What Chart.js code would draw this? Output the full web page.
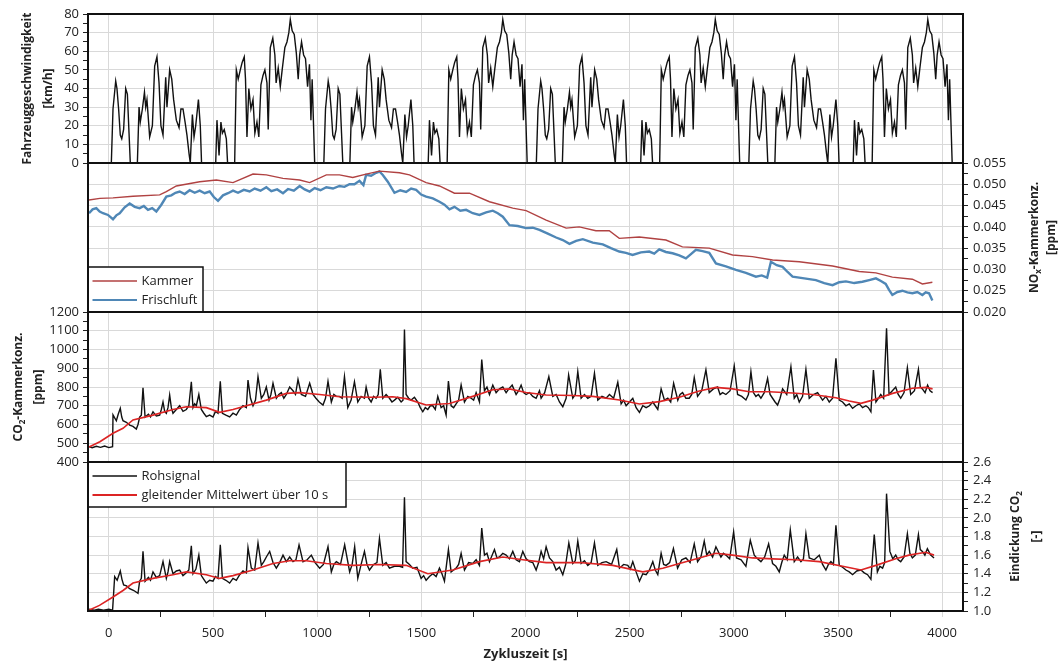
<!DOCTYPE html>
<html>
<head>
<meta charset="utf-8">
<script src="https://cdn.jsdelivr.net/npm/chart.js@4.4.1/dist/chart.umd.min.js"></script>
<style>
  html, body { margin: 0; background: #fff; }
  #wrap { position: relative; width: 1063px; height: 664px; }
  #wrap canvas { position: absolute; left: 0; top: 0; width: 1063px; height: 664px; }
</style>
</head>
<body>
<div id="wrap">
  <canvas id="p1" width="1063" height="664"></canvas>
  <canvas id="p2" width="1063" height="664"></canvas>
  <canvas id="p3" width="1063" height="664"></canvas>
  <canvas id="p4" width="1063" height="664"></canvas>
</div>
<script>
// x axis (Zykluszeit [s])
const xRange = [-100, 4100];
const xTicks = [0, 500, 1000, 1500, 2000, 2500, 3000, 3500, 4000];
const xMinorTicks = [250, 750, 1250, 1750, 2250, 2750, 3250, 3750];

// y axis ticks
const speedTicks = [0, 10, 20, 30, 40, 50, 60, 70, 80];
const speedMinor = [5, 15, 25, 35, 45, 55, 65, 75];
const noxTicks = [0.020, 0.025, 0.030, 0.035, 0.040, 0.045, 0.050, 0.055];
const noxMinor = [0.0225, 0.0275, 0.0325, 0.0375, 0.0425, 0.0475, 0.0525];
const co2Ticks = [400, 500, 600, 700, 800, 900, 1000, 1100, 1200];
const co2Minor = [450, 550, 650, 750, 850, 950, 1050, 1150];
const eindTicks = [1.0, 1.2, 1.4, 1.6, 1.8, 2.0, 2.2, 2.4, 2.6];
const eindMinor = [1.1, 1.3, 1.5, 1.7, 1.9, 2.1, 2.3, 2.5];

// Fahrzeuggeschwindigkeit [km/h], [t, v]
const speed = [
  [-100,0],
  [12,0],[20,29],[33,44],[39,40],[47,29],[55,15],[62,13],[71,18],[81,40],[89,37],[97,16],[103,0],[137,0],[145,30],[151,22],[161,29],[171,38],[177,30],[183,34],[196,14],[209,20],[220,52],[231,57],[241,43],[250,20],[260,15],[273,46],[279,30],[292,50],[302,45],[311,34],[324,23],[337,19],[346,29],[356,29],[366,22],[375,15],[385,5],[391,0],[401,26],[409,14],[417,20],[430,34],[439,20],[445,0],[513,0],[519,23],[529,4],[538,22],[545,16],[554,18],[564,13],[570,0],[604,0],[612,50],[621,45],[631,50],[640,54],[650,57],[656,45],[663,14],[672,40],[682,29],[692,34],[701,16],[711,22],[720,14],[730,42],[740,47],[749,50],[759,43],[765,18],[775,62],[787,67],[797,58],[803,43],[813,51],[823,41],[832,50],[845,62],[855,65],[864,70],[871,77],[880,71],[890,69],[900,59],[909,45],[916,58],[925,65],[935,58],[944,56],[954,41],[963,53],[970,23],[976,45],[988,0],
  [1032,0],[1040,29],[1053,44],[1059,40],[1067,29],[1075,15],[1082,13],[1091,18],[1101,40],[1109,37],[1117,16],[1123,0],[1157,0],[1165,30],[1171,22],[1181,29],[1191,38],[1197,30],[1203,34],[1216,14],[1229,20],[1240,52],[1251,57],[1261,43],[1270,20],[1280,15],[1293,46],[1299,30],[1312,50],[1322,45],[1331,34],[1344,23],[1357,19],[1366,29],[1376,29],[1386,22],[1395,15],[1405,5],[1411,0],[1421,26],[1429,14],[1437,20],[1450,34],[1459,20],[1465,0],[1533,0],[1539,23],[1549,4],[1558,22],[1565,16],[1574,18],[1584,13],[1590,0],[1624,0],[1632,50],[1641,45],[1651,50],[1660,54],[1670,57],[1676,45],[1683,14],[1692,40],[1702,29],[1712,34],[1721,16],[1731,22],[1740,14],[1750,42],[1760,47],[1769,50],[1779,43],[1785,18],[1795,62],[1807,67],[1817,58],[1823,43],[1833,51],[1843,41],[1852,50],[1865,62],[1875,65],[1884,70],[1891,77],[1900,71],[1910,69],[1920,59],[1929,45],[1936,58],[1945,65],[1955,58],[1964,56],[1974,41],[1983,53],[1990,23],[1996,45],[2008,0],
  [2052,0],[2060,29],[2073,44],[2079,40],[2087,29],[2095,15],[2102,13],[2111,18],[2121,40],[2129,37],[2137,16],[2143,0],[2177,0],[2185,30],[2191,22],[2201,29],[2211,38],[2217,30],[2223,34],[2236,14],[2249,20],[2260,52],[2271,57],[2281,43],[2290,20],[2300,15],[2313,46],[2319,30],[2332,50],[2342,45],[2351,34],[2364,23],[2377,19],[2386,29],[2396,29],[2406,22],[2415,15],[2425,5],[2431,0],[2441,26],[2449,14],[2457,20],[2470,34],[2479,20],[2485,0],[2553,0],[2559,23],[2569,4],[2578,22],[2585,16],[2594,18],[2604,13],[2610,0],[2644,0],[2652,50],[2661,45],[2671,50],[2680,54],[2690,57],[2696,45],[2703,14],[2712,40],[2722,29],[2732,34],[2741,16],[2751,22],[2760,14],[2770,42],[2780,47],[2789,50],[2799,43],[2805,18],[2815,62],[2827,67],[2837,58],[2843,43],[2853,51],[2863,41],[2872,50],[2885,62],[2895,65],[2904,70],[2911,77],[2920,71],[2930,69],[2940,59],[2949,45],[2956,58],[2965,65],[2975,58],[2984,56],[2994,41],[3003,53],[3010,23],[3016,45],[3028,0],
  [3072,0],[3080,29],[3093,44],[3099,40],[3107,29],[3115,15],[3122,13],[3131,18],[3141,40],[3149,37],[3157,16],[3163,0],[3197,0],[3205,30],[3211,22],[3221,29],[3231,38],[3237,30],[3243,34],[3256,14],[3269,20],[3280,52],[3291,57],[3301,43],[3310,20],[3320,15],[3333,46],[3339,30],[3352,50],[3362,45],[3371,34],[3384,23],[3397,19],[3406,29],[3416,29],[3426,22],[3435,15],[3445,5],[3451,0],[3461,26],[3469,14],[3477,20],[3490,34],[3499,20],[3505,0],[3573,0],[3579,23],[3589,4],[3598,22],[3605,16],[3614,18],[3624,13],[3630,0],[3664,0],[3672,50],[3681,45],[3691,50],[3700,54],[3710,57],[3716,45],[3723,14],[3732,40],[3742,29],[3752,34],[3761,16],[3771,22],[3780,14],[3790,42],[3800,47],[3809,50],[3819,43],[3825,18],[3835,62],[3847,67],[3857,58],[3863,43],[3873,51],[3883,41],[3892,50],[3905,62],[3915,65],[3924,70],[3931,77],[3940,71],[3950,69],[3960,59],[3969,45],[3976,58],[3985,65],[3995,58],[4004,56],[4014,41],[4023,53],[4030,23],[4036,45],[4048,0]
];

// NOx-Kammerkonz. [ppm]
const noxKammer = [
  [-95,0.0463],[-43,0.0467],[20,0.0468],[116,0.0472],[244,0.0475],[276,0.0483],[324,0.0496],[436,0.0506],[516,0.0510],[596,0.0504],[692,0.0524],[756,0.0522],[836,0.0514],[916,0.0510],[964,0.0504],[1044,0.0522],[1107,0.0522],[1171,0.0516],[1235,0.0524],[1299,0.0531],[1395,0.0527],[1443,0.0522],[1523,0.0504],[1587,0.0496],[1659,0.0479],[1731,0.0479],[1827,0.0459],[1939,0.0444],[2003,0.0438],[2099,0.0416],[2195,0.0397],[2258,0.0400],[2338,0.0391],[2402,0.0391],[2450,0.0373],[2546,0.0376],[2674,0.0369],[2753,0.0353],[2882,0.0350],[2994,0.0334],[3089,0.0330],[3186,0.0322],[3314,0.0318],[3474,0.0308],[3602,0.0295],[3682,0.0292],[3761,0.0282],[3857,0.0277],[3905,0.0266],[3953,0.0270]
];
const noxFrischluft = [
  [-95,0.0432],[-78,0.0441],[-60,0.0444],[-44,0.0436],[-28,0.0432],[-4,0.0428],[20,0.0418],[36,0.0427],[52,0.0432],[76,0.0446],[100,0.0455],[124,0.0447],[148,0.0444],[168,0.0449],[188,0.0440],[208,0.0444],[228,0.0436],[252,0.0452],[276,0.0471],[300,0.0474],[320,0.0480],[340,0.0483],[364,0.0477],[388,0.0486],[412,0.0480],[436,0.0485],[460,0.0479],[484,0.0483],[504,0.0470],[524,0.0461],[548,0.0474],[572,0.0479],[596,0.0485],[620,0.0480],[648,0.0487],[676,0.0483],[700,0.0490],[728,0.0485],[756,0.0493],[780,0.0484],[808,0.0488],[836,0.0479],[860,0.0489],[888,0.0485],[916,0.0496],[940,0.0488],[964,0.0483],[988,0.0491],[1016,0.0486],[1044,0.0493],[1076,0.0490],[1107,0.0496],[1131,0.0494],[1155,0.0500],[1179,0.0500],[1203,0.0508],[1222,0.0498],[1235,0.0522],[1259,0.0520],[1283,0.0527],[1299,0.0530],[1315,0.0522],[1339,0.0506],[1371,0.0480],[1399,0.0486],[1427,0.0482],[1451,0.0490],[1475,0.0487],[1499,0.0476],[1523,0.0471],[1555,0.0467],[1587,0.0459],[1611,0.0452],[1635,0.0441],[1659,0.0447],[1687,0.0438],[1715,0.0440],[1747,0.0432],[1779,0.0428],[1811,0.0434],[1843,0.0438],[1867,0.0432],[1891,0.0424],[1923,0.0404],[1963,0.0402],[2003,0.0397],[2035,0.0398],[2067,0.0393],[2107,0.0384],[2147,0.0375],[2179,0.0369],[2211,0.0360],[2243,0.0367],[2275,0.0371],[2323,0.0363],[2371,0.0359],[2410,0.0350],[2450,0.0342],[2482,0.0339],[2514,0.0334],[2554,0.0340],[2594,0.0342],[2618,0.0337],[2642,0.0347],[2674,0.0341],[2706,0.0338],[2738,0.0333],[2770,0.0326],[2794,0.0336],[2818,0.0346],[2850,0.0343],[2882,0.0339],[2914,0.0314],[2962,0.0307],[3010,0.0299],[3058,0.0292],[3106,0.0283],[3134,0.0286],[3160,0.0281],[3178,0.0318],[3206,0.0310],[3234,0.0306],[3258,0.0294],[3282,0.0283],[3338,0.0279],[3394,0.0275],[3434,0.0268],[3474,0.0263],[3506,0.0270],[3538,0.0272],[3578,0.0268],[3617,0.0271],[3650,0.0275],[3682,0.0279],[3706,0.0273],[3729,0.0266],[3745,0.0252],[3761,0.0240],[3785,0.0247],[3809,0.0250],[3833,0.0246],[3857,0.0244],[3881,0.0247],[3905,0.0240],[3921,0.0246],[3937,0.0244],[3953,0.0227]
];

// CO2-Kammerkonz. [ppm]
const co2Raw = [
  [-95,482],[-80,476],[-60,484],[-40,478],[-20,485],[0,477],[18,482],[20,651],[28,635],[36,620],[45,655],[55,686],[62,640],[68,620],[84,612],[100,597],[116,590],[132,576],[140,600],[148,640],[156,650],[164,796],[174,640],[190,655],[200,640],[212,668],[228,645],[244,650],[252,680],[260,720],[268,670],[276,660],[284,690],[292,757],[300,690],[308,660],[324,680],[340,700],[356,670],[372,680],[384,700],[396,828],[404,690],[412,710],[420,700],[432,760],[444,680],[456,660],[468,642],[484,650],[500,640],[512,670],[524,660],[535,830],[545,660],[562,650],[580,640],[596,660],[612,650],[628,680],[644,700],[660,690],[668,837],[680,740],[692,700],[704,730],[716,855],[732,740],[744,760],[756,800],[769,730],[778,760],[788,820],[804,740],[816,760],[828,770],[840,740],[852,760],[868,800],[884,780],[896,760],[908,840],[924,760],[944,750],[964,820],[980,760],[994,740],[1010,720],[1028,704],[1040,740],[1052,830],[1068,720],[1080,760],[1092,750],[1107,750],[1120,740],[1131,855],[1147,690],[1163,730],[1179,828],[1195,720],[1211,750],[1227,740],[1235,800],[1247,740],[1259,720],[1271,750],[1283,740],[1293,760],[1303,894],[1315,740],[1331,760],[1347,740],[1359,720],[1371,730],[1387,745],[1403,720],[1412,730],[1419,1107],[1427,760],[1439,740],[1451,730],[1467,745],[1483,720],[1495,690],[1507,668],[1519,690],[1531,680],[1543,700],[1555,700],[1567,680],[1579,750],[1595,690],[1607,700],[1619,651],[1630,832],[1643,700],[1655,690],[1667,710],[1679,730],[1691,811],[1707,720],[1723,750],[1739,740],[1751,730],[1763,770],[1779,720],[1790,947],[1803,780],[1815,800],[1827,760],[1843,810],[1859,770],[1875,790],[1891,800],[1907,770],[1920,790],[1936,810],[1955,760],[1967,780],[1979,810],[1991,770],[2003,760],[2019,770],[2035,750],[2051,740],[2067,780],[2075,740],[2092,770],[2112,855],[2131,750],[2147,760],[2163,720],[2179,695],[2195,740],[2207,864],[2227,740],[2239,760],[2251,882],[2267,740],[2283,760],[2299,740],[2315,750],[2331,873],[2347,730],[2367,750],[2387,740],[2403,760],[2423,740],[2443,825],[2459,710],[2471,730],[2483,700],[2499,720],[2515,740],[2531,690],[2547,665],[2563,700],[2579,690],[2595,700],[2611,720],[2623,700],[2635,680],[2651,790],[2667,730],[2683,740],[2697,720],[2711,820],[2731,730],[2742,760],[2754,770],[2770,740],[2786,740],[2798,760],[2810,850],[2826,750],[2846,780],[2866,891],[2882,770],[2902,790],[2922,800],[2934,760],[2946,770],[2962,760],[2982,780],[3002,912],[3018,760],[3038,750],[3058,731],[3070,760],[3082,882],[3094,770],[3106,750],[3118,760],[3130,740],[3146,770],[3162,846],[3174,760],[3186,740],[3198,720],[3210,704],[3222,740],[3234,790],[3254,760],[3274,908],[3290,740],[3302,760],[3314,720],[3330,750],[3346,894],[3362,740],[3382,760],[3402,770],[3414,750],[3426,730],[3442,750],[3458,720],[3474,740],[3490,953],[3506,730],[3522,720],[3538,700],[3554,710],[3570,686],[3586,700],[3602,710],[3618,690],[3634,700],[3646,690],[3658,668],[3670,891],[3682,720],[3694,740],[3705,760],[3719,740],[3733,1113],[3745,760],[3761,780],[3777,800],[3789,760],[3801,740],[3817,770],[3833,903],[3849,760],[3867,780],[3886,894],[3895,800],[3905,790],[3918,770],[3930,810],[3942,780],[3954,770]
];
const co2Avg = [
  [-95,480],[-43,508],[20,553],[68,580],[116,624],[212,650],[308,680],[372,695],[468,690],[532,665],[596,680],[660,700],[756,730],[852,766],[916,770],[1012,760],[1107,748],[1267,745],[1363,748],[1427,738],[1523,704],[1635,712],[1747,750],[1843,785],[1923,790],[2003,771],[2099,757],[2227,755],[2323,750],[2451,731],[2547,709],[2643,722],[2738,745],[2834,779],[2914,798],[2994,790],[3074,775],[3170,775],[3282,768],[3378,760],[3490,743],[3554,725],[3610,713],[3666,730],[3762,766],[3858,793],[3922,798],[3954,790]
];

// Eindickung CO2 [-]
const eindRaw = [
  [-95,1.02],[-70,1.01],[-50,1.02],[-25,1.01],[0,1.02],[18,1.01],[28,1.37],[40,1.33],[55,1.43],[63,1.34],[71,1.28],[85,1.27],[100,1.24],[120,1.22],[140,1.19],[148,1.32],[156,1.35],[164,1.64],[174,1.32],[190,1.36],[200,1.33],[212,1.42],[228,1.36],[244,1.38],[260,1.53],[276,1.35],[284,1.42],[292,1.53],[308,1.40],[324,1.43],[340,1.44],[356,1.38],[372,1.41],[384,1.44],[396,1.70],[404,1.40],[418,1.45],[432,1.60],[444,1.38],[456,1.34],[468,1.30],[484,1.33],[500,1.32],[512,1.37],[524,1.35],[535,1.71],[545,1.35],[562,1.33],[580,1.30],[596,1.35],[612,1.33],[628,1.39],[644,1.43],[660,1.41],[668,1.68],[684,1.46],[700,1.44],[716,1.73],[732,1.49],[744,1.53],[756,1.58],[772,1.64],[788,1.52],[804,1.46],[820,1.52],[836,1.60],[852,1.53],[868,1.58],[884,1.53],[898,1.55],[913,1.71],[932,1.53],[952,1.55],[972,1.60],[990,1.52],[1012,1.46],[1030,1.50],[1052,1.69],[1068,1.42],[1080,1.50],[1092,1.53],[1112,1.50],[1132,1.71],[1156,1.42],[1168,1.50],[1180,1.69],[1195,1.35],[1211,1.50],[1227,1.64],[1239,1.50],[1251,1.44],[1271,1.50],[1287,1.52],[1299,1.78],[1315,1.49],[1331,1.52],[1347,1.46],[1371,1.48],[1395,1.48],[1410,1.47],[1419,2.22],[1427,1.53],[1443,1.50],[1459,1.46],[1479,1.47],[1499,1.35],[1511,1.38],[1523,1.33],[1539,1.37],[1555,1.40],[1571,1.37],[1587,1.46],[1599,1.40],[1611,1.32],[1630,1.66],[1643,1.42],[1655,1.44],[1667,1.46],[1679,1.50],[1691,1.62],[1707,1.44],[1727,1.52],[1747,1.51],[1763,1.55],[1779,1.49],[1790,1.89],[1803,1.60],[1815,1.62],[1827,1.53],[1851,1.66],[1863,1.57],[1875,1.58],[1891,1.62],[1907,1.60],[1923,1.56],[1939,1.64],[1955,1.55],[1971,1.53],[1987,1.64],[2003,1.56],[2019,1.53],[2035,1.52],[2051,1.44],[2063,1.52],[2075,1.64],[2087,1.56],[2099,1.69],[2115,1.57],[2131,1.53],[2147,1.44],[2163,1.47],[2179,1.39],[2193,1.50],[2208,1.73],[2227,1.51],[2239,1.54],[2251,1.75],[2267,1.51],[2283,1.54],[2299,1.49],[2315,1.52],[2331,1.73],[2347,1.49],[2367,1.52],[2387,1.53],[2413,1.50],[2438,1.66],[2451,1.46],[2471,1.50],[2491,1.49],[2503,1.45],[2515,1.53],[2531,1.42],[2547,1.32],[2563,1.40],[2579,1.39],[2595,1.44],[2611,1.53],[2623,1.44],[2635,1.39],[2651,1.62],[2663,1.50],[2675,1.49],[2692,1.52],[2710,1.67],[2730,1.46],[2750,1.55],[2770,1.57],[2790,1.52],[2810,1.72],[2826,1.53],[2842,1.58],[2858,1.75],[2870,1.60],[2882,1.64],[2898,1.58],[2914,1.69],[2938,1.58],[2950,1.62],[2962,1.60],[2980,1.56],[2999,1.85],[3013,1.57],[3035,1.55],[3058,1.48],[3079,1.76],[3098,1.60],[3114,1.56],[3130,1.53],[3148,1.58],[3167,1.72],[3186,1.51],[3202,1.48],[3218,1.42],[3230,1.52],[3242,1.60],[3256,1.55],[3271,1.87],[3290,1.53],[3306,1.58],[3322,1.53],[3334,1.56],[3346,1.83],[3362,1.57],[3386,1.55],[3410,1.60],[3426,1.50],[3442,1.44],[3454,1.50],[3466,1.53],[3478,1.50],[3490,1.92],[3506,1.49],[3522,1.47],[3538,1.44],[3554,1.42],[3570,1.39],[3590,1.43],[3610,1.44],[3626,1.41],[3642,1.39],[3658,1.34],[3674,1.82],[3689,1.42],[3701,1.48],[3714,1.46],[3724,1.52],[3733,2.26],[3749,1.64],[3763,1.56],[3777,1.60],[3789,1.55],[3801,1.53],[3817,1.58],[3833,1.83],[3845,1.62],[3857,1.57],[3871,1.60],[3886,1.82],[3895,1.66],[3905,1.64],[3917,1.60],[3929,1.67],[3945,1.60],[3961,1.57]
];
const eindAvg = [
  [-93,1.01],[-45,1.06],[20,1.15],[68,1.22],[116,1.30],[212,1.35],[308,1.39],[372,1.42],[468,1.39],[532,1.35],[596,1.38],[692,1.44],[788,1.51],[868,1.54],[948,1.54],[1044,1.51],[1172,1.49],[1299,1.50],[1427,1.49],[1531,1.40],[1651,1.44],[1779,1.53],[1891,1.58],[1987,1.55],[2099,1.52],[2259,1.52],[2419,1.49],[2563,1.42],[2659,1.46],[2739,1.51],[2834,1.57],[2914,1.62],[2994,1.60],[3090,1.57],[3186,1.56],[3298,1.55],[3410,1.53],[3522,1.48],[3610,1.44],[3682,1.49],[3777,1.56],[3841,1.60],[3921,1.63],[3961,1.60]
];

const W = 1063, H = 664;
const PLOT_LEFT = 88, PLOT_RIGHT = 963;
const FONT = "'Open Sans', 'DejaVu Sans', sans-serif";
const INK = '#222';
const GRID = '#d9d9d9';

function pts(arr) {
    return arr.map(p => ({ x: p[0], y: p[1] }));
}

// rotated title, "_" marks the next character as subscript
function drawVerticalTitle(ctx, cx, cy, text, size) {
    const parts = [];
    for (let i = 0; i < text.length; i++) {
        if (text[i] === '_') { parts.push({ t: text[i + 1], sub: true }); i++; }
        else if (parts.length && !parts[parts.length - 1].sub) parts[parts.length - 1].t += text[i];
        else parts.push({ t: text[i], sub: false });
    }
    const big = `bold ${size}px ${FONT}`;
    const small = `bold ${Math.round(size * 0.7)}px ${FONT}`;
    ctx.save();
    ctx.translate(cx, cy);
    ctx.rotate(-Math.PI / 2);
    ctx.textBaseline = 'middle';
    ctx.textAlign = 'left';
    ctx.fillStyle = INK;
    let w = 0;
    parts.forEach(p => { ctx.font = p.sub ? small : big; w += ctx.measureText(p.t).width; });
    let x = -w / 2;
    parts.forEach(p => {
        ctx.font = p.sub ? small : big;
        ctx.fillText(p.t, x, p.sub ? size * 0.32 : 0);
        x += ctx.measureText(p.t).width;
    });
    ctx.restore();
}

function drawLegend(chart, box) {
    const { ctx, chartArea: a } = chart;
    const x = a.left;
    const y = box.atTop ? a.top : a.bottom - box.h;
    ctx.save();
    ctx.fillStyle = '#fff';
    ctx.fillRect(x, y, box.w, box.h);
    ctx.strokeStyle = '#111';
    ctx.lineWidth = 1.5;
    ctx.strokeRect(x, y, box.w, box.h);
    chart.data.datasets.forEach((d, i) => {
        const ly = y + 14 + i * 19;
        ctx.strokeStyle = d.borderColor;
        ctx.lineWidth = d.legendWidth || d.borderWidth;
        ctx.beginPath();
        ctx.moveTo(x + 4.5, ly);
        ctx.lineTo(x + 49, ly);
        ctx.stroke();
        ctx.fillStyle = INK;
        ctx.font = `13px ${FONT}`;
        ctx.textBaseline = 'middle';
        ctx.textAlign = 'left';
        ctx.fillText(d.label, x + 53.5, ly);
    });
    ctx.restore();
}

function makePanel(p) {
    const left = p.side === 'left';
    const yAll = p.yTicks.concat(p.yMinor).sort((a, b) => a - b);
    const xAll = p.showX ? xTicks.concat(xMinorTicks).sort((a, b) => a - b) : xTicks;

    const overlay = {
        id: 'overlay_' + p.id,
        afterDraw(chart) {
            const { ctx, chartArea: a } = chart;
            if (p.legend) drawLegend(chart, p.legend);
            ctx.save();
            ctx.strokeStyle = '#111';
            ctx.lineWidth = 2;
            ctx.strokeRect(a.left, a.top, a.right - a.left, a.bottom - a.top);
            ctx.restore();
            const cy = (a.top + a.bottom) / 2;
            p.title.forEach((t, i) => drawVerticalTitle(ctx, p.titleX[i], cy, t, 12));
            if (p.showX) {
                ctx.save();
                ctx.fillStyle = INK;
                ctx.font = `bold 13px ${FONT}`;
                ctx.textAlign = 'center';
                ctx.textBaseline = 'middle';
                ctx.fillText('Zykluszeit [s]', (a.left + a.right) / 2, 654);
                ctx.restore();
            }
        }
    };

    return new Chart(document.getElementById(p.id), {
        type: 'line',
        data: { datasets: p.datasets },
        options: {
            responsive: false,
            animation: false,
            events: [],
            layout: {
                padding: {
                    top: p.top,
                    bottom: p.showX ? 0 : H - p.bottom,
                    left: left ? 0 : PLOT_LEFT,
                    right: left ? W - PLOT_RIGHT : 0
                }
            },
            elements: { point: { radius: 0 }, line: { tension: 0 } },
            plugins: { legend: { display: false }, tooltip: { enabled: false } },
            scales: {
                x: {
                    type: 'linear',
                    min: xRange[0],
                    max: xRange[1],
                    afterBuildTicks: s => { s.ticks = xAll.map(v => ({ value: v })); },
                    afterFit: s => { s.height = p.showX ? H - p.bottom : 0; },
                    border: { display: false },
                    grid: {
                        color: c => xTicks.includes(c.tick.value) ? GRID : 'rgba(0,0,0,0)',
                        drawTicks: p.showX,
                        tickLength: 6,
                        tickColor: c => xTicks.includes(c.tick.value) ? GRID : INK
                    },
                    ticks: {
                        display: p.showX,
                        autoSkip: false,
                        maxRotation: 0,
                        padding: 8,
                        color: INK,
                        font: { family: FONT, size: 13 },
                        callback: v => xTicks.includes(v) ? String(v) : ''
                    }
                },
                y: {
                    position: p.side,
                    min: p.yMin,
                    max: p.yMax,
                    afterBuildTicks: s => { s.ticks = yAll.map(v => ({ value: v })); },
                    afterFit: s => { s.width = left ? PLOT_LEFT : W - PLOT_RIGHT; },
                    border: { display: false },
                    grid: {
                        color: c => p.yTicks.includes(c.tick.value) ? GRID : 'rgba(0,0,0,0)',
                        tickLength: 5,
                        tickColor: INK
                    },
                    ticks: {
                        autoSkip: false,
                        padding: left ? 4 : 5,
                        color: INK,
                        font: { family: FONT, size: 13 },
                        callback: v => p.yTicks.includes(v) ? p.fmt(v) : ''
                    }
                }
            }
        },
        plugins: [overlay]
    });
}

makePanel({
    id: 'p1', side: 'left', top: 14, bottom: 163,
    yMin: 0, yMax: 80, yTicks: speedTicks, yMinor: speedMinor, fmt: v => String(v),
    title: ['Fahrzeuggeschwindigkeit', '[km/h]'], titleX: [27.5, 49],
    datasets: [
        { label: 'Fahrzeuggeschwindigkeit', data: pts(speed), borderColor: '#111', borderWidth: 1.4 }
    ]
});

makePanel({
    id: 'p2', side: 'right', top: 163, bottom: 312,
    yMin: 0.020, yMax: 0.055, yTicks: noxTicks, yMinor: noxMinor, fmt: v => v.toFixed(3),
    title: ['NO_x-Kammerkonz.', '[ppm]'], titleX: [1035, 1052],
    legend: { atTop: false, w: 115, h: 45 },
    datasets: [
        { label: 'Kammer', data: pts(noxKammer), borderColor: '#b04242', borderWidth: 1.4, order: 0 },
        { label: 'Frischluft', data: pts(noxFrischluft), borderColor: '#4f87b6', borderWidth: 2.4, legendWidth: 2, order: 1 }
    ]
});

makePanel({
    id: 'p3', side: 'left', top: 312, bottom: 462,
    yMin: 400, yMax: 1200, yTicks: co2Ticks, yMinor: co2Minor, fmt: v => String(v),
    title: ['CO_2-Kammerkonz.', '[ppm]'], titleX: [18.5, 38.5],
    datasets: [
        { label: 'Rohsignal', data: pts(co2Raw), borderColor: '#111', borderWidth: 1.4, order: 1 },
        { label: 'gleitender Mittelwert über 10 s', data: pts(co2Avg), borderColor: '#dc2424', borderWidth: 1.6, order: 0 }
    ]
});

makePanel({
    id: 'p4', side: 'right', top: 462, bottom: 611, showX: true,
    yMin: 1.0, yMax: 2.6, yTicks: eindTicks, yMinor: eindMinor, fmt: v => v.toFixed(1),
    title: ['Eindickung CO_2', '[-]'], titleX: [1016, 1037],
    legend: { atTop: true, w: 258, h: 45 },
    datasets: [
        { label: 'Rohsignal', data: pts(eindRaw), borderColor: '#111', borderWidth: 1.4, order: 1 },
        { label: 'gleitender Mittelwert über 10 s', data: pts(eindAvg), borderColor: '#dc2424', borderWidth: 1.6, legendWidth: 2, order: 0 }
    ]
});
</script>
</body>
</html>
